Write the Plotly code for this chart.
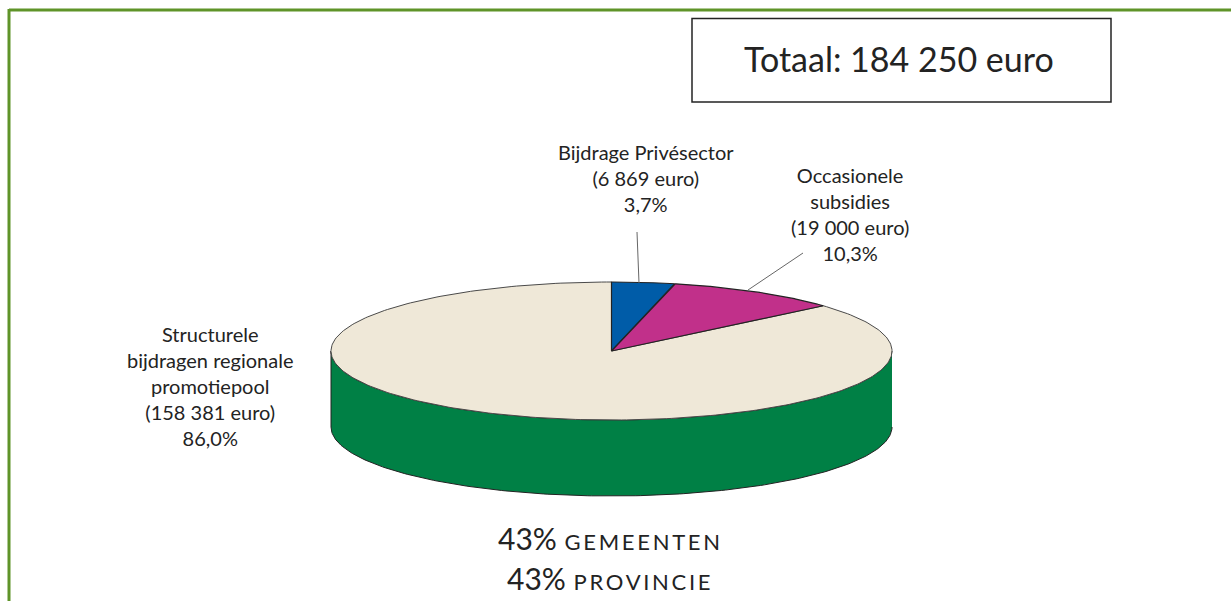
import numpy as np
import plotly.graph_objects as go

# --- data ---
categories = ["Bijdrage Privésector", "Occasionele subsidies", "Structurele bijdragen regionale promotiepool"]
amounts = [6869, 19000, 158381]
slice_colors = ["#005ca8", "#c1308a", "#efe8d8"]
wall_color = "#008045"
slice_labels = [
    "Bijdrage Privésector<br>(6 869 euro)<br>3,7%",
    "Occasionele<br>subsidies<br>(19 000 euro)<br>10,3%",
    "Structurele<br>bijdragen regionale<br>promotiepool<br>(158 381 euro)<br>86,0%",
]
total_label = "Totaal: 184 250 euro"

# --- layout of the drawing ---
W, H = 1231, 601
CX, CY, RX, RY, DEPTH = 611.5, 351, 280.5, 69, 76
ANGLE_SQUEEZE = 0.97  # the perspective of the original foreshortens the small slices slightly
INK = "#232323"
FONT = "Lato"
GREEN = "#5f9429"
CAPS = "font-size:22px;letter-spacing:2.7px"


def rim(t):
    """Point on the top ellipse; t in radians, clockwise from 12 o'clock."""
    return CX + RX * np.sin(t), CY - RY * np.cos(t)


fig = go.Figure()

# side wall: lower half of the rim, swept down by DEPTH
t_front = np.linspace(np.pi / 2, 3 * np.pi / 2, 200)
fx, fy = rim(t_front)
wall_x = np.concatenate([fx, fx[::-1]])
wall_y = np.concatenate([fy, fy[::-1] + DEPTH])
fig.add_trace(go.Scatter(x=wall_x, y=wall_y, mode="lines", fill="toself", fillcolor=wall_color,
                         line=dict(color=INK, width=1), hoverinfo="skip", showlegend=False))

# top face: slices from the amounts; beige drawn first so the small slices sit on top
fractions = np.array(amounts) / sum(amounts)
edges = np.concatenate([[0], np.cumsum(fractions)]) * 2 * np.pi
edges[1:3] *= ANGLE_SQUEEZE
for i in [2, 0, 1]:
    t = np.linspace(edges[i], edges[i + 1], 300)
    x, y = rim(t)
    fig.add_trace(go.Scatter(x=np.concatenate([[CX], x, [CX]]), y=np.concatenate([[CY], y, [CY]]),
                             mode="lines", fill="toself", fillcolor=slice_colors[i], name=categories[i],
                             line=dict(color="#4a4a4a" if i == 2 else INK, width=1 if i == 2 else 1.2),
                             hoverinfo="skip", showlegend=False))

shapes = [
    # page frame (open to the right and the bottom edge)
    dict(type="line", x0=9, x1=W + 5, y0=10, y1=10, line=dict(color=GREEN, width=3)),
    dict(type="line", x0=9, x1=9, y0=9, y1=H + 5, line=dict(color=GREEN, width=3)),
    # total box
    dict(type="rect", x0=692, x1=1111, y0=18.5, y1=102, line=dict(color=INK, width=1.5), fillcolor="white"),
    # leader lines
    dict(type="line", x0=637, x1=639, y0=232, y1=283, line=dict(color="#666666", width=1)),
    dict(type="line", x0=748, x1=803, y0=290, y1=253, line=dict(color="#666666", width=1)),
]
for s in shapes:
    s.update(xref="x", yref="y")


def label(x, y, text, size):
    return dict(x=x, y=y, xref="x", yref="y", text=text, showarrow=False, align="center",
                xanchor="center", yanchor="middle", font=dict(family=FONT, size=size, color=INK))


annotations = [
    label(899, 58.5, total_label, 34),
    label(645.5, 178, slice_labels[0], 20),
    label(849.5, 214, slice_labels[1], 20),
    label(210.5, 386, slice_labels[2], 20),
    label(610, 538, f"43% <span style='{CAPS}'>GEMEENTEN</span>", 30),
    label(610, 578, f"43% <span style='{CAPS}'>PROVINCIE</span>", 30),
]

fig.update_layout(
    width=W, height=H, margin=dict(l=0, r=0, t=0, b=0),
    paper_bgcolor="white", plot_bgcolor="white", showlegend=False,
    xaxis=dict(range=[0, W], visible=False, fixedrange=True),
    yaxis=dict(range=[H, 0], visible=False, fixedrange=True),
    shapes=shapes, annotations=annotations,
)
fig.write_html("out.html", config=dict(displayModeBar=False),
               post_script="document.body.style.margin='0';document.documentElement.style.overflow='hidden';")
